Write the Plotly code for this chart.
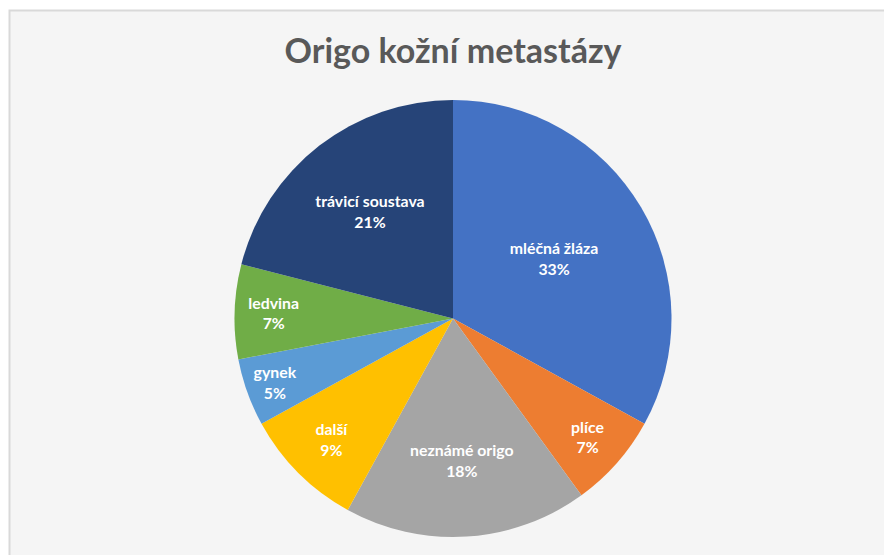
import plotly.graph_objects as go

labels = ["mléčná žláza", "plíce", "neznámé origo", "další", "gynek", "ledvina", "trávicí soustava"]
values = [33, 7, 18, 9, 5, 7, 21]
colors = ["#4472C4", "#ED7D31", "#A5A5A5", "#FFC000", "#5B9BD5", "#70AD47", "#264478"]
title_text = "Origo kožní metastázy"

W, H = 892, 555
OFF = 8  # page body margin
cx, cy, r = 453 - OFF, 318.5 - OFF, 218.5

fig = go.Figure(go.Pie(
    labels=labels,
    values=values,
    sort=False,
    direction="clockwise",
    rotation=0,
    marker=dict(colors=colors, line=dict(width=0)),
    texttemplate="<b>%{label}<br>%{percent:.0%}</b>",
    textposition="inside",
    insidetextorientation="horizontal",
    textfont=dict(family="Lato, Open Sans, sans-serif", size=17, color="white"),
    showlegend=False,
    hoverinfo="label+percent",
    domain=dict(x=[(cx - r) / W, (cx + r) / W], y=[1 - (cy + r) / H, 1 - (cy - r) / H]),
))

fig.update_layout(
    width=W, height=H,
    margin=dict(l=0, r=0, t=0, b=0),
    paper_bgcolor="white",
    title=dict(
        text="<b>" + title_text + "</b>",
        x=cx / W, xanchor="center",
        y=1 - (51 - OFF) / H, yanchor="middle",
        font=dict(family="Lato, Open Sans, sans-serif", size=34, color="#595959"),
    ),
    shapes=[dict(
        type="rect", xref="paper", yref="paper",
        x0=1.5 / W, x1=1.05, y0=-0.05, y1=1 - (10.5 - OFF) / H,
        fillcolor="#f5f5f5", line=dict(color="#d9d9d9", width=2), layer="below",
    )],
    uniformtext=dict(minsize=10, mode="show"),
)

fig.write_html("out.html")
